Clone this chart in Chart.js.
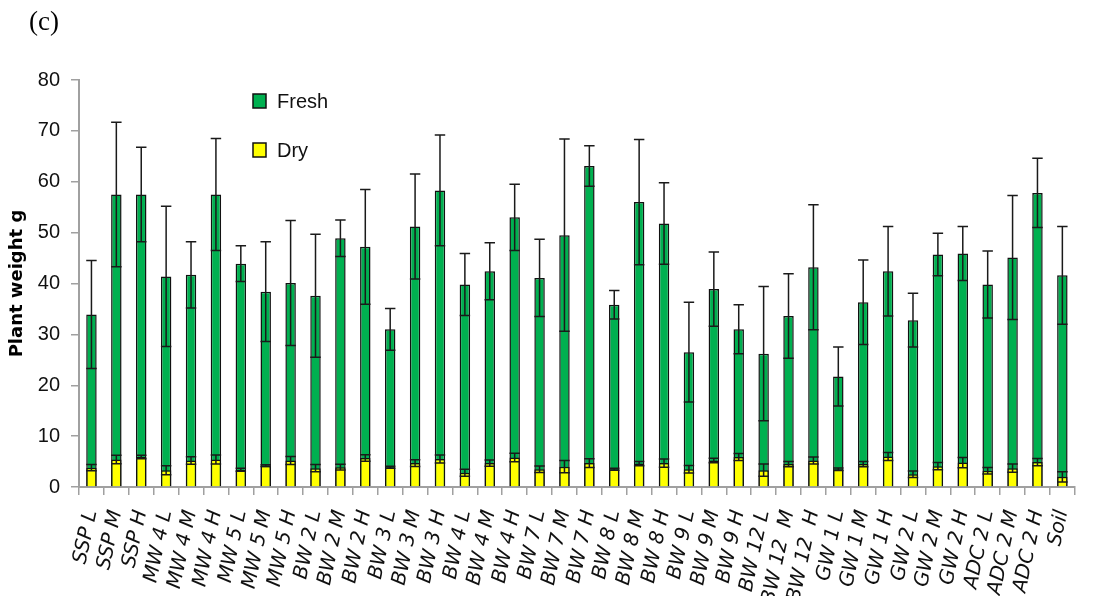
<!DOCTYPE html>
<html>
<head>
<meta charset="utf-8">
<script src="https://cdn.jsdelivr.net/npm/chart.js"></script>
<style>
  body { margin: 0; background: #fff; }
  #wrap { position: relative; width: 1099px; height: 596px; }
  #tag { position: absolute; left: 29px; top: 6px; font: 27px "Liberation Serif", serif; color: #000; }
</style>
</head>
<body>
<div id="wrap">
  <div id="tag">(c)</div>
  <canvas id="graph" width="1099" height="596"></canvas>
</div>
<script>
// categories + values
const labels = ['SSP L', 'SSP M', 'SSP H', 'MW 4 L', 'MW 4 M', 'MW 4 H', 'MW 5 L', 'MW 5 M', 'MW 5 H',
  'BW 2 L', 'BW 2 M', 'BW 2 H', 'BW 3 L', 'BW 3 M', 'BW 3 H', 'BW 4 L', 'BW 4 M', 'BW 4 H',
  'BW 7 L', 'BW 7 M', 'BW 7 H', 'BW 8 L', 'BW 8 M', 'BW 8 H', 'BW 9 L', 'BW 9 M', 'BW 9 H',
  'BW 12 L', 'BW 12  M', 'BW 12  H', 'GW 1 L', 'GW 1 M', 'GW 1 H', 'GW 2 L', 'GW 2 M', 'GW 2 H',
  'ADC 2 L', 'ADC 2 M', 'ADC 2 H', 'Soil'];

const fresh = [33.9, 57.5, 57.5, 41.4, 41.7, 57.5, 43.9, 38.4, 40.1,
  37.6, 48.9, 47.2, 31.0, 51.2, 58.3, 39.8, 42.4, 53.0,
  41.1, 49.5, 63.1, 35.8, 56.0, 51.8, 26.5, 38.9, 31.0,
  26.2, 33.6, 43.2, 21.7, 36.3, 42.4, 32.8, 45.7, 45.9,
  39.8, 45.1, 57.8, 41.6];
const freshErr = [10.6, 14.2, 9.3, 13.8, 6.5, 11.0, 3.5, 9.8, 12.3,
  12.1, 3.6, 11.3, 4.1, 10.3, 10.9, 6.1, 5.6, 6.5,
  7.6, 18.9, 4.0, 2.8, 12.3, 8.0, 9.8, 7.3, 4.8,
  13.2, 8.3, 12.3, 5.8, 8.3, 8.8, 5.3, 4.2, 5.3,
  6.6, 12.2, 6.8, 9.6];

const dry = [3.8, 5.4, 5.9, 3.3, 5.2, 5.4, 3.4, 4.2, 5.2,
  3.7, 3.9, 5.7, 3.9, 4.7, 5.5, 2.8, 4.7, 5.8,
  3.5, 4.0, 4.7, 3.5, 4.6, 4.7, 3.5, 5.2, 5.9,
  3.3, 4.5, 5.2, 3.5, 4.5, 6.0, 2.5, 4.1, 4.8,
  3.2, 3.7, 4.9, 2.0];
const dryErr = [0.6, 0.85, 0.35, 0.9, 0.75, 0.9, 0.3, 0.15, 0.8,
  0.7, 0.55, 0.65, 0.2, 0.65, 0.8, 0.7, 0.6, 0.85,
  0.65, 1.2, 0.85, 0.2, 0.4, 0.8, 0.75, 0.45, 0.7,
  1.2, 0.5, 0.7, 0.25, 0.5, 0.8, 0.65, 0.7, 1.0,
  0.65, 0.8, 0.7, 1.0];

const yMin = 0, yMax = 80, yStep = 10;

// error bars (+/- sd) on every bar
const errorBars = {
    id: 'errorBars',
    afterDatasetsDraw(chart) {
        const ctx = chart.ctx, y = chart.scales.y;
        ctx.save();
        ctx.strokeStyle = '#1a1a1a';
        ctx.lineWidth = 1.5;
        chart.data.datasets.forEach((ds, i) => {
            chart.getDatasetMeta(i).data.forEach((bar, j) => {
                const hi = y.getPixelForValue(ds.data[j] + ds.err[j]);
                const lo = y.getPixelForValue(ds.data[j] - ds.err[j]);
                const w = bar.width / 2;
                ctx.beginPath();
                ctx.moveTo(bar.x, hi); ctx.lineTo(bar.x, lo);
                ctx.moveTo(bar.x - w, hi); ctx.lineTo(bar.x + w, hi);
                ctx.moveTo(bar.x - w, lo); ctx.lineTo(bar.x + w, lo);
                ctx.stroke();
            });
        });
        ctx.restore();
    }
};

// legend sits inside the plot, top left
const innerLegend = {
    id: 'innerLegend',
    afterDraw(chart) {
        const ctx = chart.ctx;
        ctx.save();
        ctx.font = '20px "Liberation Sans", sans-serif';
        ctx.textBaseline = 'middle';
        chart.data.datasets.forEach((ds, i) => {
            const cy = 101 + i * 49;
            ctx.fillStyle = ds.backgroundColor;
            ctx.fillRect(253, cy - 7, 13, 14);
            ctx.strokeStyle = '#111';
            ctx.lineWidth = 1.5;
            ctx.strokeRect(253, cy - 7, 13, 14);
            ctx.fillStyle = '#111';
            ctx.fillText(ds.label, 277, cy + 1);
        });
        ctx.restore();
    }
};

let graph = document.getElementById('graph').getContext('2d');

new Chart(graph, {
    type: 'bar',
    data: {
        labels: labels,
        datasets: [
            {
                label: 'Fresh',
                data: fresh,
                err: freshErr,
                backgroundColor: '#00b050',
                borderColor: '#111',
                borderWidth: 1.5,
                order: 2,
            },
            {
                label: 'Dry',
                data: dry,
                err: dryErr,
                backgroundColor: '#ffff00',
                borderColor: '#111',
                borderWidth: 1.5,
                order: 1,
            },
        ]
    },
    options: {
        responsive: false,
        animation: false,
        layout: { padding: { top: 80, right: 13, left: 0, bottom: 0 } },
        datasets: { bar: { grouped: false, categoryPercentage: 1, barPercentage: 0.42 } },
        plugins: { legend: { display: false }, tooltip: { enabled: false } },
        scales: {
            x: {
                afterFit(scale) { scale.height = 109; },
                border: { color: '#a0a0a0', width: 2 },
                grid: { drawOnChartArea: false, offset: true, tickLength: 8, color: '#a0a0a0', lineWidth: 1.5 },
                ticks: {
                    autoSkip: false, minRotation: 78, maxRotation: 78, padding: 13, color: '#111',
                    font: { family: '"DejaVu Sans", sans-serif', size: 20, style: 'italic' }
                }
            },
            y: {
                min: yMin,
                max: yMax,
                afterFit(scale) { scale.width = 79; },
                border: { color: '#a0a0a0', width: 2 },
                grid: { drawOnChartArea: false, tickLength: 8, color: '#a0a0a0', lineWidth: 1.5 },
                ticks: {
                    stepSize: yStep, padding: 11, color: '#111',
                    font: { family: '"Liberation Sans", sans-serif', size: 20 }
                },
                title: {
                    display: true, text: 'Plant weight g', color: '#000', padding: { top: 7, bottom: 0 },
                    font: { family: '"DejaVu Sans", sans-serif', size: 18, weight: 'bold' }
                }
            }
        }
    },
    plugins: [errorBars, innerLegend]
});
</script>
</body>
</html>
